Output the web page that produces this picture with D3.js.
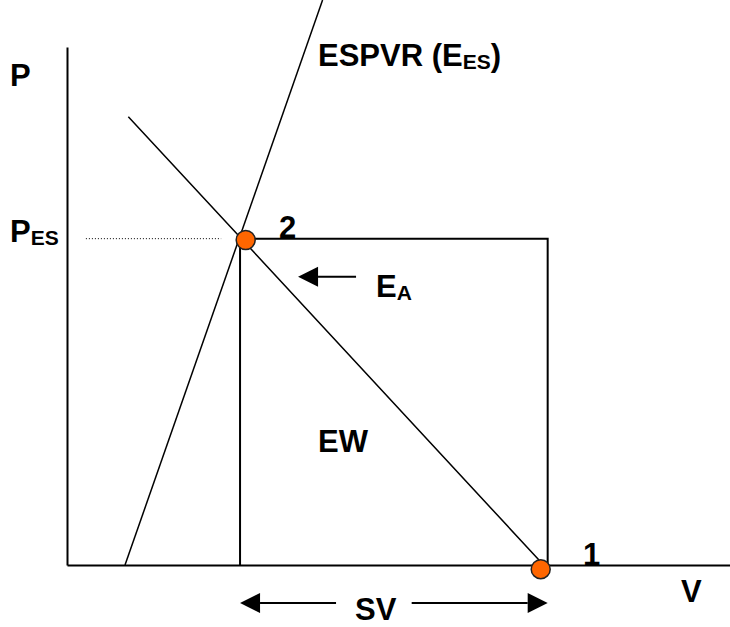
<!DOCTYPE html>
<html>
<head>
<meta charset="utf-8">
<script src="https://cdn.jsdelivr.net/npm/d3@7"></script>
<style>
  body { margin: 0; background: #fff; }
  svg text { font-family: "Liberation Sans", Arial, sans-serif; font-weight: bold; fill: #000; }
</style>
</head>
<body>
<div id="pv"></div>
<script>
// pressure-volume diagram: ESPVR, arterial elastance and stroke work

// volume / pressure values (arbitrary units)
const loopV = [52.2, 145.0];          // end-systolic, end-diastolic volume
const loopP = [0, 94.5];              // baseline, end-systolic pressure
const espvrV = [17.5, 77.1];
const espvrP = [0, 163.6];
const eaV = [18.5, 52.5, 143.0];
const eaP = [129.8, 94.6, 0.8];
const pointNames = ["1", "2"];
const pointV = [142.9, 53.9];
const pointP = [-1.2, 94.1];
const pesGuideV = [5.7, 46.5];

const width = 730, height = 627;

const x = d3.scaleLinear().domain([0, 200]).range([67, 730]);
const y = d3.scaleLinear().domain([0, 150]).range([565, 47]);

const svg = d3.select("#pv").append("svg")
    .attr("width", width)
    .attr("height", height);

const line = d3.line().x(d => x(d[0])).y(d => y(d[1]));

// axes (no ticks, just the lines)
svg.append("g")
    .attr("transform", `translate(0,${y(0)})`)
    .call(d3.axisBottom(x).tickValues([]).tickSizeOuter(0))
    .call(g => g.select(".domain").attr("stroke", "#000").attr("stroke-width", 2));

svg.append("g")
    .attr("transform", `translate(${x(0)},0)`)
    .call(d3.axisLeft(y).tickValues([]).tickSizeOuter(0))
    .call(g => g.select(".domain").attr("stroke", "#000").attr("stroke-width", 2));

// dotted guide to P_ES
svg.append("path")
    .attr("d", line(pesGuideV.map(v => [v, loopP[1]])))
    .attr("stroke", "#000")
    .attr("stroke-width", 1)
    .attr("stroke-dasharray", "1,2")
    .attr("fill", "none");

// the loop (rectangle)
const loopPts = [[loopV[0], loopP[0]], [loopV[0], loopP[1]], [loopV[1], loopP[1]], [loopV[1], loopP[0]]];
svg.append("path")
    .attr("d", line(loopPts))
    .attr("stroke", "#000")
    .attr("stroke-width", 2)
    .attr("fill", "none");

// ESPVR
svg.append("path")
    .attr("d", line(espvrV.map((v, i) => [v, espvrP[i]])))
    .attr("stroke", "#000")
    .attr("stroke-width", 1.5)
    .attr("fill", "none");

// Ea line
svg.append("path")
    .attr("d", line(eaV.map((v, i) => [v, eaP[i]])))
    .attr("stroke", "#000")
    .attr("stroke-width", 1.5)
    .attr("fill", "none");

// arrows
function arrow(x1, x2, yy) {
    // line from x1 to the tip x2, filled head at x2
    const dir = Math.sign(x2 - x1);
    const headLen = 20, half = 10;
    svg.append("line")
        .attr("x1", x1).attr("x2", x2 - dir * headLen)
        .attr("y1", yy).attr("y2", yy)
        .attr("stroke", "#000").attr("stroke-width", 2);
    svg.append("path")
        .attr("d", `M${x2},${yy}L${x2 - dir * headLen},${yy - half}L${x2 - dir * headLen},${yy + half}Z`)
        .attr("fill", "#000");
}

const ea0 = y(loopP[1]) + 38;
arrow(x(loopV[0]) + 116, x(loopV[0]) + 58, ea0);

const svY = y(0) + 38;
arrow(x(loopV[0]) + 96, x(loopV[0]), svY);
arrow(x(loopV[1]) - 136, x(loopV[1]), svY);

// points
svg.selectAll(".pt")
    .data(pointNames)
    .join("ellipse")
    .attr("class", "pt")
    .attr("cx", (d, i) => x(pointV[i]))
    .attr("cy", (d, i) => y(pointP[i]))
    .attr("rx", 9.5)
    .attr("ry", 9.5)
    .attr("fill", "#FF6600")
    .attr("stroke", "#222")
    .attr("stroke-width", 1.5);

// labels
const fs = 31, sub = 21;

function label(tx, ty, main, subTxt, after) {
    const t = svg.append("text")
        .attr("x", tx).attr("y", ty)
        .style("font-size", fs + "px");
    t.append("tspan").text(main);
    if (subTxt) {
        t.append("tspan").text(subTxt).style("font-size", sub + "px").attr("dy", 3);
    }
    if (after) {
        t.append("tspan").text(after).attr("dy", -3);
    }
    return t;
}

label(10, 86, "P");
label(318, 66, "ESPVR (E", "ES", ")");
label(10, 242, "P", "ES");
label(279, 238, pointNames[1]);
label(376, 297, "E", "A");
label(318, 452, "EW");
label(583, 565, pointNames[0]);
label(681, 602, "V");
label(355, 620, "SV");
</script>
</body>
</html>
